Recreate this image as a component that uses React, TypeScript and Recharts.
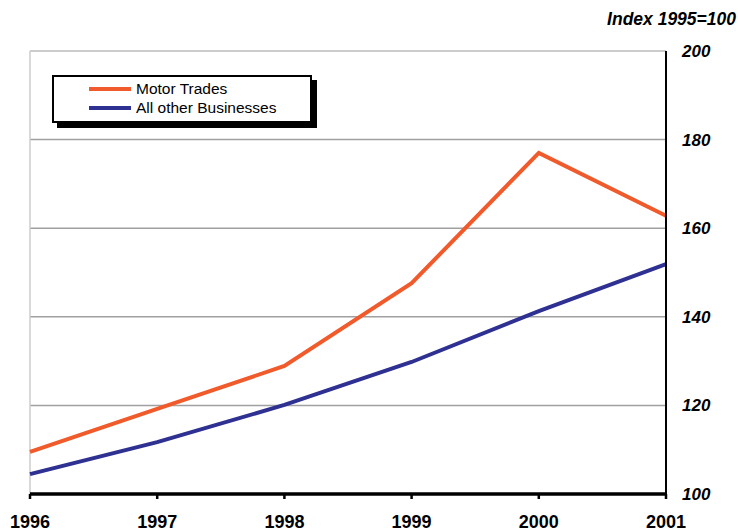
import React from 'react';
import { LineChart, Line, XAxis, YAxis, ReferenceLine } from 'recharts';

const years = ['1996', '1997', '1998', '1999', '2000', '2001'];
const motorTrades = [109.5, 119.2, 128.9, 147.6, 177.0, 162.8];
const allOther = [104.5, 111.7, 120.1, 129.8, 141.3, 151.9];
const yTicks = [100, 120, 140, 160, 180, 200];
const gridValues = [120, 140, 160, 180];

const data = years.map((y, i) => ({ year: y, motor: motorTrades[i], other: allOther[i] }));

const ORANGE = '#F15A2B';
const BLUE = '#2E3192';
const FONT = '"Liberation Sans", Arial, Helvetica, sans-serif';

const LegendBox = () => (
  <div
    style={{
      position: 'absolute',
      left: 52,
      top: 75,
      width: 256,
      height: 44,
      border: '2px solid #000',
      boxShadow: '5px 5px 0 #000',
      background: '#fff',
      fontFamily: FONT,
      fontSize: 15.5,
      color: '#000',
    }}
  >
    {[
      { c: ORANGE, t: 'Motor Trades', top: 3 },
      { c: BLUE, t: 'All other Businesses', top: 22 },
    ].map((d) => (
      <div key={d.t} style={{ position: 'absolute', left: 35, top: d.top, display: 'flex', alignItems: 'center', height: 18 }}>
        <div style={{ width: 42, height: 4, background: d.c, marginRight: 5 }} />
        <span>{d.t}</span>
      </div>
    ))}
  </div>
);

export default function App() {
  return (
    <div style={{ position: 'absolute', left: 0, top: 0, width: 738, height: 531, background: '#fff' }}>
      <LineChart width={738} height={531} data={data} margin={{ top: 51, left: 30, right: 0, bottom: 0 }}>
        <ReferenceLine y={200} stroke="#cccccc" strokeWidth={2} />
        {gridValues.map((v) => (
          <ReferenceLine key={v} y={v} stroke="#a0a0a0" strokeWidth={1.5} />
        ))}
        <ReferenceLine x="1996" stroke="#cccccc" strokeWidth={1.5} />
        <XAxis
          dataKey="year"
          height={37}
          axisLine={{ stroke: '#000', strokeWidth: 3.5 }}
          tickLine={{ stroke: '#000', strokeWidth: 2.5 }}
          tickSize={5}
          tickMargin={16}
          tick={{ fill: '#000', fontFamily: FONT, fontSize: 18, fontWeight: 'bold' }}
          interval={0}
        />
        <YAxis
          orientation="right"
          width={72}
          domain={[100, 200]}
          ticks={yTicks}
          axisLine={{ stroke: '#000', strokeWidth: 2 }}
          tickLine={false}
          tickMargin={10}
          tick={{ fill: '#000', fontFamily: FONT, fontSize: 17, fontWeight: 'bold', fontStyle: 'italic' }}
        />
        <Line type="linear" dataKey="motor" name="Motor Trades" stroke={ORANGE} strokeWidth={4} dot={false} isAnimationActive={false} />
        <Line type="linear" dataKey="other" name="All other Businesses" stroke={BLUE} strokeWidth={4} dot={false} isAnimationActive={false} />
      </LineChart>
      <LegendBox />
      <div
        style={{
          position: 'absolute',
          right: 2,
          top: 10,
          fontFamily: FONT,
          fontSize: 17.5,
          fontWeight: 'bold',
          fontStyle: 'italic',
          color: '#000',
          lineHeight: '18px',
        }}
      >
        Index 1995=100
      </div>
    </div>
  );
}
